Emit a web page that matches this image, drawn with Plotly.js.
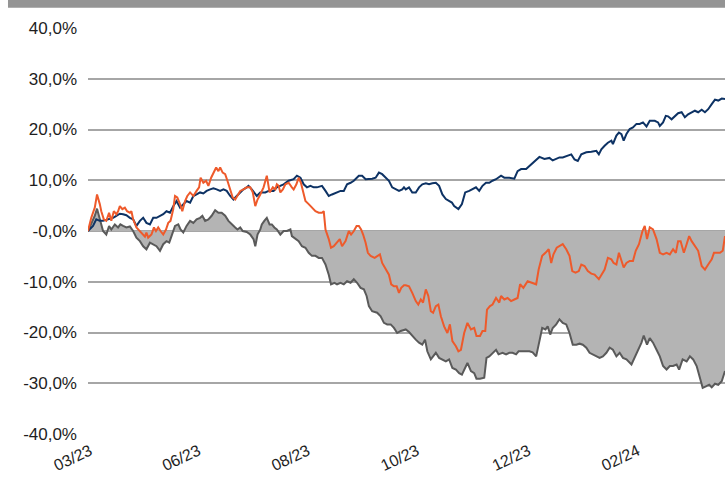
<!DOCTYPE html>
<html>
<head>
<meta charset="utf-8">
<script src="https://cdn.plot.ly/plotly-3.0.1.min.js"></script>
<style>html,body{margin:0;padding:0;background:#fff;}#chart{width:725px;height:479px;}</style>
</head>
<body>
<div id="chart"></div>
<script>
// x = trading-day index since start; y = cumulative performance in %
const navyDay = [0,1.3,2.0,3.3,4.7,6.0,7.3,8.7,10.0,11.3,12.7,14.0,15.3,16.7,18.0,19.3,20.7,22.0,23.3,24.7,26.0,27.3,28.7,30.0,31.3,32.7,34.0,35.3,36.7,38.0,39.3,40.7,42.0,43.3,44.7,46.0,47.3,48.7,50.0,51.3,52.7,54.0,55.3,56.7,58.0,59.3,60.7,62.0,63.3,
64.0,65.3,67.3,68.7,70.7,72.0,74.0,75.3,76.7,78.0,80.0,82.0,83.3,84.7,86.0,87.3,88.7,90.0,91.3,93.3,94.7,96.0,97.3,99.3,100.7,102.0,103.3,104.7,106.0,108.0,109.3,110.7,112.0,113.3,114.7,116.0,117.3,118.7,120.0,121.3,122.7,124.0,125.3,126.0,
126.7,128.0,129.3,130.7,132.0,133.3,134.7,136.0,137.3,138.7,140.0,141.3,142.7,144.0,145.1,146.0,147.7,149.1,150.4,152.0,153.3,154.7,156.0,157.3,158.7,160.0,161.3,162.7,164.7,166.0,168.0,170.0,171.3,172.7,174.7,176.0,178.0,
180.0,182.0,184.0,185.3,186.7,
188.0,189.3,190.7,192.7,194.0,195.3,196.7,198.7,200.7,202.7,203.7,204.7,206.0,207.3,208.7,209.3,210.7,211.7,212.7,213.6,214.7,216.0,217.3,218.7,220.0,221.3,222.7,224.0,226.0,227.3,228.0,229.3,230.4,231.3,232.7,234.0,235.3,236.7,238.0,239.3,240.7,242.0,243.3,244.7,246.0,247.3,248.7,250.0,251.3,252.7,254.0];
const navyPct = [0,0.7,1.0,2.3,2.0,2.0,2.2,2.3,2.6,3.0,3.4,3.3,3.1,2.6,2.3,1.0,2.0,2.6,1.6,1.3,2.6,2.6,3.0,3.3,3.9,3.6,4.9,5.9,4.6,5.3,5.9,5.6,6.9,7.2,7.6,7.4,7.9,8.2,8.4,8.2,7.9,8.2,7.9,6.9,6.2,6.9,7.6,8.2,8.6,
8.9,8.2,6.9,7.6,7.6,7.9,7.9,8.6,8.9,9.2,9.9,10.2,10.9,10.5,9.2,8.6,8.9,8.6,8.6,8.9,7.9,6.9,7.2,7.6,7.9,7.9,9.2,9.5,9.9,10.9,10.9,10.2,10.2,10.3,10.5,11.5,11.2,10.5,9.9,8.6,8.2,7.9,8.2,8.6,
8.2,8.6,7.6,7.6,8.6,9.2,9.4,9.2,9.4,9.5,8.9,7.2,6.3,5.9,5.6,4.9,4.3,5.3,7.6,7.9,8.2,8.6,7.9,8.9,9.5,9.5,9.9,10.2,10.9,10.5,10.5,10.3,11.8,12.2,12.2,12.8,13.8,
14.6,14.2,14.4,13.9,14.2,
14.5,14.5,14.8,15.1,14.1,13.8,15.1,15.5,15.6,15.8,15.1,16.1,16.8,17.4,17.8,17.1,18.8,19.4,19.1,17.8,19.1,20.1,20.4,21.1,21.1,21.4,20.6,21.7,21.7,21.4,20.7,21.4,22.7,22.6,22.0,22.6,23.2,23.4,22.4,23.0,23.4,23.7,23.4,23.9,23.4,24.0,25.0,25.9,25.7,26.1,26.0];

const orangeDay = [0,1.3,2.7,3.6,4.7,5.3,6.3,7.3,8.4,9.3,10.3,11.3,12.0,12.7,13.7,14.7,15.6,16.7,17.3,18.0,19.3,20.7,21.7,22.7,23.3,24.0,25.3,26.3,27.1,28.0,28.9,30.0,31.1,32.0,32.9,34.0,34.7,35.6,36.7,37.6,38.7,39.6,40.7,42.0,43.3,44.3,44.9,46.0,47.1,48.0,49.1,50.3,51.1,52.0,52.7,53.7,54.7,55.6,56.7,57.7,58.7,59.6,60.7,62.0,63.3,
64.7,65.7,66.7,67.6,68.7,70.0,71.3,72.4,73.7,74.7,75.3,76.0,76.7,77.7,78.7,80.0,81.3,82.0,83.1,84.0,84.9,85.7,86.7,88.0,89.3,90.7,92.0,93.3,94.0,94.7,96.0,96.9,98.0,99.3,100.4,101.3,102.7,104.0,104.9,106.0,107.1,108.0,108.9,109.7,110.7,111.6,112.7,114.3,115.3,116.4,117.3,118.7,120.0,120.9,122.0,123.1,124.0,124.9,126.0,
126.7,128.0,129.3,130.7,131.7,132.7,133.6,134.7,135.7,136.7,137.6,138.7,139.7,140.7,142.0,143.3,144.3,145.3,146.7,147.7,148.7,150.0,151.3,152.7,154.0,154.9,156.3,157.3,158.4,159.1,160.3,161.3,162.7,164.0,164.7,166.0,167.3,168.7,170.0,171.3,172.3,173.6,175.3,176.7,178.7,179.7,181.1,182.4,183.7,184.7,185.6,186.9,
188.0,189.3,190.7,192.0,193.1,194.4,195.7,196.7,198.0,199.3,200.7,202.0,203.7,205.1,206.0,207.3,208.7,209.6,210.7,211.7,212.7,213.6,214.7,216.0,217.3,218.4,219.7,221.1,222.0,222.9,224.0,225.3,226.7,228.0,229.3,230.7,232.0,233.3,234.4,235.3,236.3,237.6,238.7,239.7,240.7,242.0,243.3,244.7,246.0,247.3,248.7,249.6,250.9,252.0,253.1,254.0];
const orangePct = [0,2.6,4.6,7.2,5.3,3.9,2.3,2.0,3.6,2.0,3.9,3.3,3.9,4.9,4.3,4.6,3.9,3.6,3.9,2.3,0.7,0,-0.7,-1.1,-0.3,-1.3,-0.7,0.7,0,0.7,0,-0.7,0.3,1.6,2.0,4.3,6.9,6.6,5.3,3.9,5.9,6.9,7.6,6.9,7.9,8.6,10.5,9.5,9.9,8.9,10.5,11.8,12.5,11.8,12.5,11.5,11.2,9.9,7.9,6.6,6.2,6.9,7.9,8.2,8.6,
8.6,7.6,4.9,6.2,7.2,8.6,10.9,7.6,8.6,8.2,9.2,8.9,7.6,8.2,9.2,9.5,8.6,8.2,9.2,10.5,9.5,7.6,5.9,5.3,4.6,3.9,3.6,3.6,3.9,0.3,-1.6,-3.3,-3.0,-2.3,-1.6,-3.0,-2.0,0,-0.7,0,1.0,1.0,0.3,-0.7,-2.3,-4.3,-4.9,-5.3,-4.9,-4.6,-6.3,-7.6,-8.6,-10.5,-10.9,-10.9,-12.2,-11.2,-10.7,
-10.7,-10.9,-12.2,-13.8,-14.5,-13.5,-14.1,-11.5,-12.8,-15.8,-16.1,-14.8,-14.5,-16.8,-18.8,-20.1,-18.4,-21.7,-22.7,-23.7,-23.4,-20.1,-18.1,-19.4,-19.1,-20.7,-20.7,-19.7,-19.7,-15.5,-14.8,-14.5,-13.2,-14.1,-12.8,-13.5,-13.2,-13.8,-13.5,-13.2,-10.5,-11.2,-9.9,-10.2,-10.5,-7.6,-4.9,-4.3,-3.6,-6.3,-4.6,-3.3,
-3.0,-2.6,-3.6,-4.9,-7.9,-8.2,-7.9,-6.6,-6.9,-7.9,-8.4,-8.6,-9.5,-8.2,-7.6,-5.3,-5.6,-6.3,-6.6,-4.3,-5.9,-7.2,-6.3,-5.9,-5.9,-3.9,-2.6,0,1.0,-1.6,0.7,0.3,-1.6,-4.3,-4.6,-4.3,-4.6,-3.6,-4.3,-2.0,-2.0,-4.3,-2.6,-1.0,-2.0,-3.0,-3.9,-6.9,-7.6,-6.6,-5.6,-4.3,-4.3,-4.3,-3.9,-1.0];

const grayDay = [0,1.3,2.7,3.6,4.7,6.0,7.3,8.4,9.3,10.7,12.0,12.9,14.0,15.3,16.7,18.0,19.3,20.7,22.0,23.3,24.7,26.0,27.3,28.7,30.0,31.3,32.4,33.3,34.7,36.0,36.9,38.0,39.3,40.7,42.0,43.3,44.7,45.6,46.7,48.0,49.3,50.7,52.0,53.3,54.7,56.0,57.3,58.7,59.6,60.7,61.7,63.3,
64.7,66.0,66.7,67.6,68.7,69.3,70.3,71.3,72.4,73.3,74.3,75.3,76.7,78.0,79.3,80.7,81.3,82.7,84.0,85.3,86.7,88.0,89.3,90.7,92.0,93.3,94.7,96.0,96.9,98.3,99.3,100.7,102.0,103.3,104.7,106.0,107.3,108.7,110.0,111.1,112.0,113.3,115.3,116.7,118.0,119.3,120.7,122.0,123.3,124.7,126.0,
126.7,128.0,129.3,130.7,132.0,133.3,134.4,135.3,136.7,137.6,138.7,140.0,141.3,142.7,144.0,145.3,146.7,148.0,149.1,150.0,151.3,152.7,154.0,154.9,156.3,158.0,158.9,160.0,161.3,162.7,163.7,165.3,166.7,168.0,169.3,170.7,171.7,173.1,174.4,176.0,177.3,178.7,180.0,181.1,182.4,183.3,184.3,185.3,186.7,188.0,189.3,
190.7,192.0,193.3,194.7,196.0,197.3,198.7,200.0,201.3,202.7,204.0,205.3,206.7,208.0,209.3,210.7,212.0,213.3,214.7,216.7,218.0,219.3,220.7,221.6,222.9,224.0,225.3,226.7,228.0,229.3,230.7,232.0,233.3,234.7,235.7,237.1,238.7,240.0,241.3,242.7,244.0,245.1,246.4,247.7,248.7,250.0,251.3,252.7,254.0];
const grayPct = [0,1.3,3.0,4.4,2.3,0,-0.7,1.0,0.3,1.3,0.7,1.3,1.0,0.7,0.9,0,-1.3,-2.0,-3.0,-3.6,-2.3,-2.6,-3.0,-3.9,-2.6,-2.0,-2.3,-1.0,1.0,1.3,0.3,-0.3,1.0,2.0,1.6,2.3,2.6,3.0,2.0,2.3,3.0,4.1,3.6,3.6,3.0,2.0,1.3,0.7,0.3,0.7,0,-0.2,
-0.7,-1.6,-3.0,-0.7,0.3,1.3,2.0,2.6,1.3,1.3,0.7,0.3,-0.7,0,0,0.3,-1.0,-1.6,-2.0,-3.0,-3.3,-4.3,-4.9,-4.9,-5.3,-5.3,-6.6,-8.6,-10.5,-10.2,-10.5,-10.2,-10.5,-9.9,-10.2,-9.5,-10.2,-11.2,-11.5,-12.8,-14.8,-15.8,-16.1,-16.8,-18.1,-18.4,-18.4,-19.1,-20.1,-19.7,-19.4,
-19.4,-19.9,-20.7,-21.4,-22.0,-22.4,-21.4,-23.7,-25.3,-24.7,-24.0,-25.0,-25.3,-25.7,-25.3,-27.0,-27.3,-28.0,-28.3,-27.3,-26.0,-27.6,-28.0,-29.1,-29.1,-28.9,-25.0,-24.7,-24.0,-23.4,-24.3,-24.0,-24.3,-24.0,-24.0,-24.3,-23.7,-23.7,-23.7,-23.7,-23.9,-24.7,-21.7,-19.1,-19.4,-18.8,-20.4,-19.1,-18.4,-17.4,-18.1,
-18.4,-20.1,-22.4,-22.4,-22.2,-22.4,-23.0,-24.0,-24.3,-24.7,-25.0,-24.7,-24.0,-23.0,-23.4,-24.7,-24.0,-25.0,-25.3,-26.3,-25.0,-23.7,-22.0,-20.6,-22.4,-21.1,-22.0,-23.4,-24.7,-26.6,-27.3,-26.6,-26.6,-26.3,-27.3,-25.3,-25.7,-24.7,-25.3,-26.6,-28.9,-30.9,-30.6,-30.3,-30.8,-30.1,-30.3,-29.6,-27.6];

const xTickDays = [0.8, 44.0, 87.6, 131.2, 175.6, 219.2];
const xTickLabels = ['03/23', '06/23', '08/23', '10/23', '12/23', '02/24'];
const yTickValues = [-40, -30, -20, -10, 0, 10, 20, 30, 40];
const yTickLabels = ['-40,0%', '-30,0%', '-20,0%', '-10,0%', '-0,0%', '10,0%', '20,0%', '30,0%', '40,0%'];

const traces = [
  {x: grayDay, y: grayPct, type: 'scatter', mode: 'lines', fill: 'tozeroy',
   fillcolor: '#b4b4b4', line: {color: '#5a5a5a', width: 2}, hoverinfo: 'skip'},
  {x: navyDay, y: navyPct, type: 'scatter', mode: 'lines',
   line: {color: '#0d3264', width: 2}, hoverinfo: 'skip'},
  {x: orangeDay, y: orangePct, type: 'scatter', mode: 'lines',
   line: {color: '#ee5a2b', width: 2}, hoverinfo: 'skip'}
];

const tickFont = {family: 'Liberation Sans, Arial, sans-serif', size: 17, color: '#1e1e1e'};
const xTickFont = {family: 'Liberation Sans, Arial, sans-serif', size: 16, color: '#1e1e1e'};

const layout = {
  width: 725, height: 479,
  margin: {l: 88, r: 0, t: 28, b: 45},
  paper_bgcolor: '#ffffff', plot_bgcolor: '#ffffff',
  showlegend: false,
  font: tickFont,
  xaxis: {
    range: [0, 254], showgrid: false, zeroline: false, showline: false,
    tickmode: 'array', tickvals: xTickDays, ticktext: xTickLabels,
    tickangle: -25, ticks: '', ticklabelstandoff: 4,
    tickfont: xTickFont
  },
  yaxis: {
    range: [-40, 40], showgrid: true, gridcolor: '#a6a6a6', gridwidth: 2,
    zeroline: false, showline: false, ticks: '',
    tickmode: 'array', tickvals: yTickValues, ticktext: yTickLabels,
    ticklabelstandoff: 10,
    tickfont: tickFont
  },
  shapes: [
    {type: 'rect', xref: 'paper', yref: 'paper',
     x0: -0.1256, x1: 1.0, y0: 1.05, y1: 1.08,
     fillcolor: '#949494', line: {width: 0}, layer: 'above'}
  ]
};

Plotly.newPlot('chart', traces, layout, {staticPlot: true, displayModeBar: false});
</script>
</body>
</html>
